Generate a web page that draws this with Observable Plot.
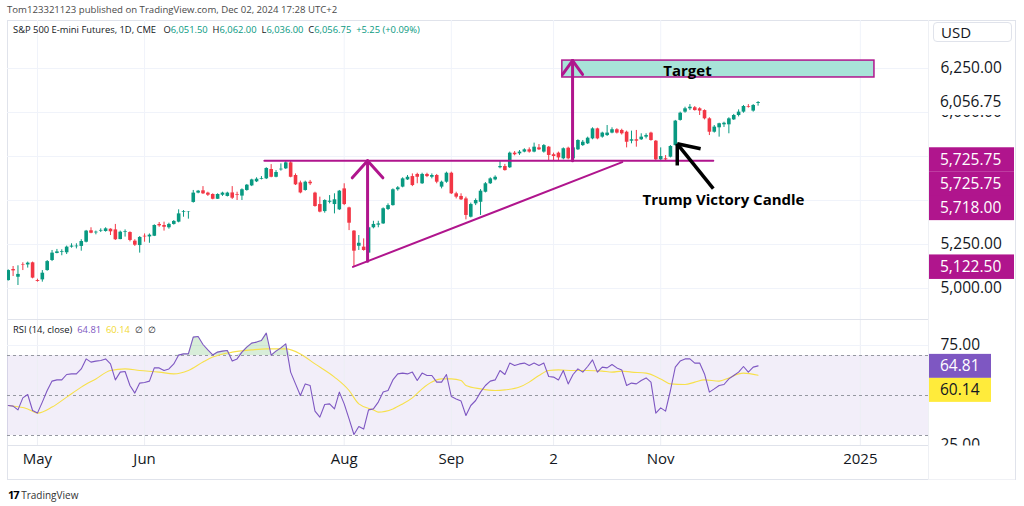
<!DOCTYPE html>
<html><head><meta charset="utf-8">
<script src="https://cdn.jsdelivr.net/npm/d3@7"></script>
<script src="https://cdn.jsdelivr.net/npm/@observablehq/plot@0.6"></script>
<style>
body{margin:0;width:1024px;height:506px;position:relative;background:#fff;font-family:"Open Sans",sans-serif;overflow:hidden;color:#131722}
.abs{position:absolute}
#frame{left:7px;top:20px;width:1009px;height:460px;border:1px solid #e0e3eb;box-sizing:border-box}
#sep{left:7px;top:319px;width:921px;height:1px;background:#e0e3eb}
#vsep{left:928px;top:20px;width:1px;height:460px;background:#eef0f4}
#hdr{left:7px;top:3px;font-size:9.6px;color:#4a4a4a;white-space:nowrap}
#leg{left:13px;top:23px;font-size:9.4px;white-space:nowrap}
#rsileg{left:13px;top:323px;font-size:9.4px;white-space:nowrap}
#usd{left:933px;top:22px;width:79px;height:20px;border:1px solid #e0e3eb;border-radius:4px;box-sizing:border-box;font-size:15px;line-height:18px;padding-left:7px}
#logo{left:8px;top:487px;font-size:10px;color:#333;white-space:nowrap}
</style></head><body>
<div id="hdr" class="abs">Tom123321123 published on TradingView.com, Dec 02, 2024 17:28 UTC+2</div>
<div id="frame" class="abs"></div>
<div id="main" class="abs" style="left:0;top:20px"></div>
<div id="rsi" class="abs" style="left:0;top:320px"></div>
<div id="sep" class="abs"></div>
<div id="vsep" class="abs"></div>
<div id="leg" class="abs">S&amp;P 500 E-mini Futures, 1D, CME&nbsp;&nbsp; <span>O</span><span style="color:#089981">6,051.50</span>&nbsp; <span>H</span><span style="color:#089981">6,062.00</span>&nbsp; <span>L</span><span style="color:#089981">6,036.00</span>&nbsp; <span>C</span><span style="color:#089981">6,056.75&nbsp; +5.25 (+0.09%)</span></div>
<div id="rsileg" class="abs">RSI (14, close)&nbsp; <span style="color:#7e57c2">64.81</span>&nbsp; <span style="color:#f2d930">60.14</span>&nbsp; ∅&nbsp; ∅</div>
<div id="usd" class="abs">USD</div>
<div id="logo" class="abs"><b style="font-size:11px;letter-spacing:-1px;color:#000">17</b>&nbsp;TradingView</div>
<script>
// ---- data (daily bars, Apr 23 – Dec 02, 2024) ----
const candleOpen = [5045,5108,5064,5134,5134,5146,5045,5049,5102,5159,5199,5206,5203,5235,5237,5239,5263,5328,5316,5326,5324,5337,5333,5278,5318,5318,5269,5244,5297,5293,5297,5364,5358,5345,5364,5377,5432,5432,5489,5542,5555,5542,5534,5507,5530,5523,5543,5534,5525,5557,5583,5606,5621,5623,5676,5632,5674,5680,5714,5642,5600,5557,5604,5542,5477,5437,5490,5477,5447,5566,5458,5326,5240,5235,5201,5345,5360,5367,5449,5471,5561,5576,5617,5636,5648,5595,5648,5632,5642,5576,5604,5655,5538,5523,5509,5405,5481,5490,5547,5595,5617,5686,5693,5686,5769,5765,5775,5788,5775,5799,5775,5803,5760,5769,5737,5797,5737,5788,5812,5822,5850,5907,5860,5869,5883,5902,5898,5888,5837,5845,5845,5860,5883,5837,5731,5737,5746,5812,5955,6002,6021,6027,6021,6011,5964,5888,5913,5930,5930,5958,5983,6002,6034,6008,6051.5];
const candleHigh = [5106,5125,5129,5146,5150,5150,5053,5102,5159,5216,5222,5220,5241,5254,5254,5277,5330,5345,5326,5339,5345,5339,5364,5326,5333,5322,5277,5295,5310,5310,5362,5375,5377,5371,5386,5447,5443,5437,5557,5557,5579,5547,5538,5538,5547,5547,5579,5547,5566,5591,5621,5629,5636,5686,5704,5670,5708,5726,5722,5651,5610,5610,5614,5547,5519,5504,5528,5538,5557,5595,5462,5329,5301,5282,5352,5382,5382,5458,5481,5566,5579,5629,5642,5651,5655,5655,5655,5651,5648,5610,5661,5661,5547,5538,5519,5485,5509,5562,5602,5629,5640,5727,5705,5775,5778,5784,5794,5799,5826,5818,5818,5807,5769,5775,5799,5803,5805,5845,5841,5860,5913,5911,5888,5926,5913,5908,5905,5894,5894,5898,5879,5879,5888,5841,5799,5755,5812,5955,6002,6030,6045,6034,6027,6015,5970,5926,5939,5945,5970,5989,6015,6040,6045,6045,6062];
const candleLow = [5042,5068,5017,5102,5116,5055,5036,5036,5098,5153,5197,5186,5193,5229,5225,5212,5259,5311,5305,5318,5320,5301,5273,5277,5292,5265,5239,5201,5263,5257,5295,5348,5326,5337,5360,5373,5405,5394,5485,5538,5534,5523,5504,5506,5523,5520,5506,5500,5500,5553,5579,5602,5617,5619,5629,5629,5667,5676,5629,5585,5538,5553,5585,5462,5430,5428,5481,5424,5443,5471,5329,5122.5,5216,5212,5197,5339,5345,5364,5443,5468,5553,5572,5614,5579,5595,5591,5630,5623,5595,5566,5598,5534,5509,5500,5390,5401,5471,5415,5543,5591,5612,5680,5667,5682,5754,5756,5771,5769,5771,5784,5769,5727,5723,5723,5731,5731,5733,5784,5807,5818,5845,5845,5854,5864,5879,5878,5872,5799,5822,5803,5841,5850,5837,5727,5727,5725,5742,5809,5951,5996,6011,6008,5983,5958,5869,5883,5860,5915,5879,5955,5975,5996,6025,6002,6036];
const candleClose = [5102,5100,5080,5131,5144,5059,5040,5087,5153,5201,5208,5210,5235,5241,5241,5267,5326,5314,5320,5330,5339,5322,5277,5320,5322,5273,5246,5290,5293,5303,5358,5356,5348,5364,5381,5424,5436,5434,5542,5553,5538,5530,5507,5534,5542,5542,5513,5530,5561,5587,5617,5621,5625,5682,5632,5659,5678,5714,5632,5589,5543,5604,5595,5466,5434,5500,5496,5504,5553,5477,5371,5212,5257,5216,5345,5364,5367,5453,5471,5561,5572,5623,5632,5585,5632,5648,5636,5642,5604,5604,5655,5538,5519,5504,5415,5477,5500,5553,5595,5623,5632,5693,5670,5769,5760,5775,5788,5775,5803,5788,5812,5756,5750,5742,5794,5737,5799,5841,5831,5854,5907,5850,5883,5883,5902,5883,5879,5831,5845,5837,5860,5869,5841,5731,5750,5731,5807,5951,5996,6021,6030,6011,6008,5964,5888,5917,5936,5939,5964,5983,6002,6034,6030,6040,6056.75];
const rsiValues = [45.0,44.7,42.8,48.8,50.5,42.5,41.2,46.7,52.5,57.2,57.8,57.8,60.5,60.8,60.8,63.3,68.3,66.7,67.2,67.5,68.3,65.8,57.8,61.7,62.0,55.0,51.2,56.2,56.5,57.2,63.8,63.8,62.5,63.3,65.8,70.2,70.8,70.8,79.2,79.5,75.5,72.8,70.3,71.7,72.2,72.5,67.2,68.3,71.7,74.2,76.2,76.7,77.5,81.2,70.2,72.2,73.8,75.8,61.7,55.8,50.0,55.8,55.0,42.2,39.2,45.5,45.8,43.3,51.7,45.8,38.3,30.5,34.5,33.2,42.8,43.3,46.7,51.7,52.5,57.8,60.8,61.2,60.8,61.7,57.5,61.2,60.0,60.0,56.7,56.7,60.5,49.5,48.3,47.2,40.0,45.0,47.5,51.7,55.0,57.2,57.8,62.5,60.5,66.2,65.0,65.8,66.2,65.0,66.2,65.0,66.2,59.5,59.2,57.8,62.5,55.8,60.5,63.3,61.7,64.5,67.8,61.7,64.2,63.8,65.5,63.8,62.8,55.0,56.2,55.8,57.5,58.8,56.7,41.2,43.8,42.2,52.5,64.2,67.2,68.3,68.3,66.2,66.2,60.8,51.7,53.3,55.0,55.5,58.3,60.0,61.7,64.5,61.7,64.2,64.81];
const rsiMaBar = [0,4,6,9,12,15,18,21,24,27,31,34,37,40,42,46,50,53,57,60,63,67,70,72,75,76,79,81,83,85,87,89,91,93,94,97,100,102,105,107,109,111,113,116,119,122,124,126,128,131,134,136,139,141,143,146,148,150,151,154];
const rsiMaValue = [45.0,43.3,41.2,44.2,49.2,54.2,58.3,62.5,63.3,62.5,61.7,60.8,62.5,66.7,69.2,71.7,72.8,73.3,73.3,70.8,65.8,59.2,52.5,45.8,42.8,41.7,43.3,45.8,48.8,53.3,56.7,58.3,58.3,57.5,55.0,53.3,52.5,52.8,54.2,56.7,60.0,62.5,62.8,62.5,62.5,62.2,61.7,62.2,61.7,61.2,58.3,55.8,55.5,56.7,57.8,57.2,58.8,60.8,61.2,60.14];
const timeTickBar = [6,28,69,91,112,134,175];
const timeTickLabel = ["May","Jun","Aug","Sep","2","Nov","2025"];
const priceGrid = [5000,5250,5500,5750,6000,6250];
const priceTicks = [5000,5250,6000,6250];
const rsiLevels = [70,50,30];
const rsiTicks = [25,75];
// drawings
const resistanceLine = [[52.6,5725.75,144.8,5725.75]];
const supportLine = [[70.8,5122.5,126.1,5718]];
const upArrow1 = [[73.8,5155,73.8,5725.75],[73.8,5725.75,70.66,5629],[73.8,5725.75,76.94,5629]];
const upArrow2 = [[115.9,5725.75,115.9,6295],[115.9,6295,113.85,6216],[115.9,6295,117.95,6216]];
const victoryArrow = [[144.8,5568,137.4,5822],[137.4,5822,142.2,5794],[137.4,5822,137.4,5699]];
const targetBox = [[113.8,6199,177.9,6295]];
const notes = [{x:139.5,y:6233,t:"Target"},{x:146.9,y:5500,t:"Trump Victory Candle"}];
const priceBadges = [{v:5725.75,dy:-1,t:"5,725.75"},{v:5725.75,dy:23.5,t:"5,725.75"},{v:5718,dy:46,t:"5,718.00"},{v:5122.5,dy:0,t:"5,122.50"}];
const lastPrice = 6056.75;

const magenta = "#b0158d", up = "#089981", down = "#f23645";
const xDomain = [-0.15, 189];
const candles = candleOpen.map((o,i)=>({i,o,h:candleHigh[i],l:candleLow[i],c:candleClose[i]}));
const col = d => d.c >= d.o ? up : down;
const seg = a => a.map(s=>({x1:s[0],y1:s[1],x2:s[2],y2:s[3]}));
const linkOpts = (w,c)=>({x1:"x1",y1:"y1",x2:"x2",y2:"y2",stroke:c,strokeWidth:w,strokeLinecap:"round"});

const main = Plot.plot({
  width:1024,height:299,marginLeft:7,marginRight:96,marginTop:0,marginBottom:0,
  style:{fontFamily:"Open Sans",color:"#131722",background:"transparent"},
  x:{domain:xDomain,axis:null},
  y:{domain:[5000,6250],range:[268,48],axis:null},
  marks:[
    Plot.ruleY(priceGrid,{stroke:"#f0f3fa"}),
    Plot.ruleX(timeTickBar,{stroke:"#f0f3fa"}),
    Plot.ruleX(candles,{x:"i",y1:"l",y2:"h",stroke:col,strokeWidth:1,clip:true}),
    Plot.ruleX(candles,{x:"i",y1:"o",y2:"c",stroke:col,strokeWidth:3.6,clip:true}),
    Plot.rect(seg(targetBox),{x1:"x1",y1:"y1",x2:"x2",y2:"y2",fill:"#a8e3d8",stroke:magenta,strokeWidth:1.5}),
    Plot.link(seg(resistanceLine),linkOpts(2,magenta)),
    Plot.link(seg(supportLine),linkOpts(2,magenta)),
    Plot.link(seg(upArrow1),linkOpts(3,magenta)),
    Plot.link(seg(upArrow2),linkOpts(3,magenta)),
    Plot.link(seg(victoryArrow),{...linkOpts(3.5,"#000"),strokeLinecap:"butt"}),
    Plot.text(notes,{x:"x",y:"y",text:"t",fontSize:15,fontWeight:"bold",fill:"#000"}),
    Plot.axisY({anchor:"right",ticks:priceTicks,tickSize:0,tickPadding:12,tickFormat:d3.format(",.2f"),fontSize:15.5,label:null})
  ]
});
document.getElementById("main").appendChild(main);
{
  const svg = d3.select(main), ys = main.scale("y");
  const g = svg.append("g").attr("font-size",15.5).attr("font-family","Open Sans").attr("text-anchor","start");
  const ly = ys.apply(lastPrice);
  g.append("rect").attr("x",929).attr("y",ly-11).attr("width",86).attr("height",24).attr("fill","#fff");
  g.append("text").attr("x",940).attr("y",ly).attr("dy","0.35em").attr("fill","#131722").text(d3.format(",.2f")(lastPrice));
  for (const b of priceBadges){
    const y = ys.apply(b.v)+b.dy;
    g.append("rect").attr("x",929).attr("y",y-12).attr("width",85).attr("height",24.5).attr("fill",magenta);
    g.append("text").attr("x",940).attr("y",y).attr("dy","0.35em").attr("fill","#fff").text(b.t);
  }
}

const rsiData = rsiValues.map((v,i)=>({i,v}));
const rsiMa = rsiMaBar.map((b,k)=>({i:b,v:rsiMaValue[k]}));
const ticks = timeTickBar.map((b,k)=>({i:b,t:timeTickLabel[k]}));
const rsi = Plot.plot({
  width:1024,height:160,marginLeft:7,marginRight:96,marginTop:0,marginBottom:35,
  style:{fontFamily:"Open Sans",color:"#131722",background:"transparent"},
  x:{domain:xDomain,axis:null},
  y:{domain:[30,70],range:[115,35],axis:null},
  marks:[
    Plot.rect([{}],{x1:xDomain[0],x2:xDomain[1],y1:30,y2:70,fill:"#7e57c2",fillOpacity:0.1}),
    Plot.ruleX(timeTickBar,{stroke:"#eceef4"}),
    Plot.ruleY([75],{stroke:"#f0f3fa"}),
    Plot.ruleY(rsiLevels,{stroke:"#9598a1",strokeDasharray:"3,3",strokeWidth:1}),
    Plot.areaY(rsiData,{x:"i",y1:70,y2:d=>Math.max(70,d.v),fill:"#4caf50",fillOpacity:0.22}),
    Plot.line(rsiMa,{x:"i",y:"v",stroke:"#f7e04b",strokeWidth:1.1,curve:"monotone-x"}),
    Plot.line(rsiData,{x:"i",y:"v",stroke:"#7e57c2",strokeWidth:1.1}),
    Plot.axisY({anchor:"right",ticks:rsiTicks,tickSize:0,tickPadding:12,tickFormat:d3.format(".2f"),fontSize:15.5,label:null}),
    Plot.ruleY([25],{stroke:"#e0e3eb"}),
    Plot.text(ticks,{x:"i",text:"t",frameAnchor:"bottom",dy:18,fontSize:15,fill:"#131722",fontWeight:d=>d.t==="2025"?"bold":"normal"})
  ]
});
document.getElementById("rsi").appendChild(rsi);
{
  const svg = d3.select(rsi), ys = rsi.scale("y");
  svg.append("rect").attr("x",929).attr("y",125.5).attr("width",86).attr("height",34).attr("fill","#fff");
  const g = svg.append("g").attr("font-size",15.5).attr("font-family","Open Sans").attr("text-anchor","start");
  const y1 = ys.apply(64.81);
  g.append("rect").attr("x",929).attr("y",y1-11.5).attr("width",62).attr("height",24).attr("fill","#7e57c2");
  g.append("text").attr("x",940).attr("y",y1).attr("dy","0.35em").attr("fill","#fff").text("64.81");
  g.append("rect").attr("x",929).attr("y",y1+12.5).attr("width",62).attr("height",24).attr("fill","#ffeb3b");
  g.append("text").attr("x",940).attr("y",y1+24).attr("dy","0.35em").attr("fill","#131722").text("60.14");
}
</script>
</body></html>
